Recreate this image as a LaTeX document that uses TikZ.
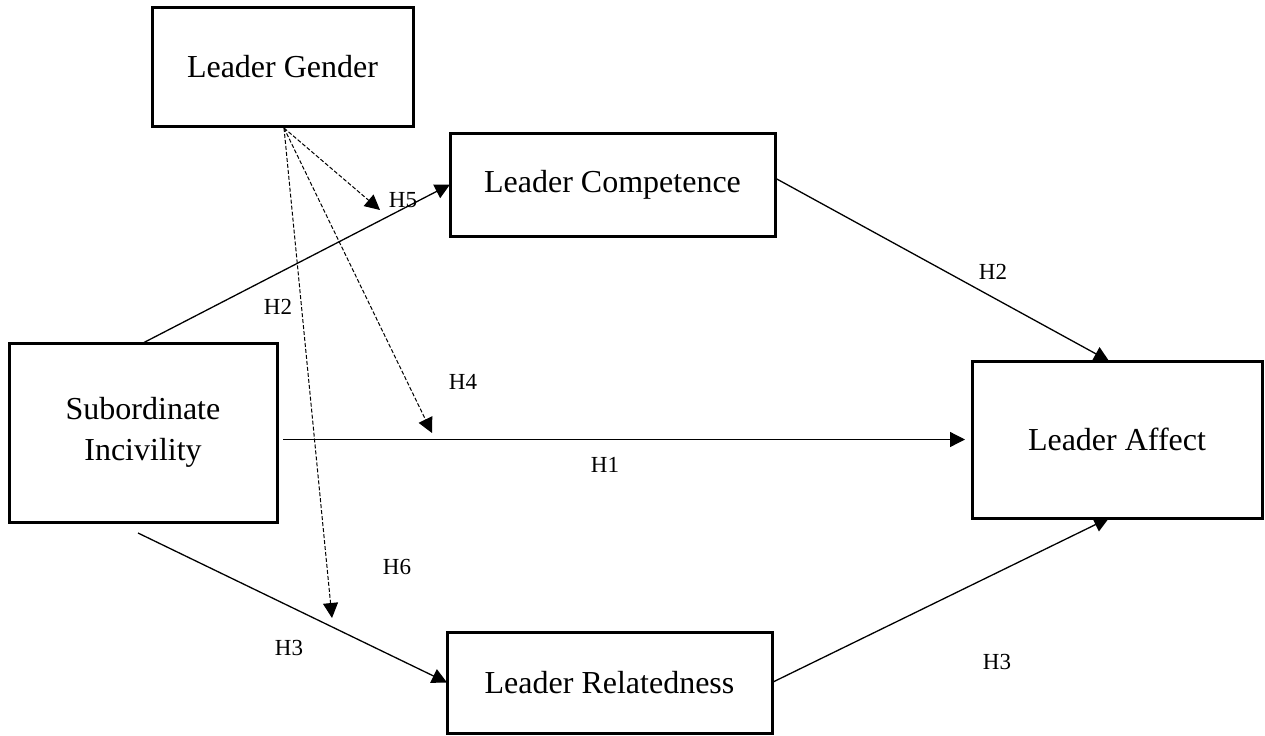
\documentclass[tikz,border=0pt]{standalone}
\usepackage{fontspec}
\setmainfont{Liberation Serif}
\usetikzlibrary{arrows.meta,calc}
\begin{document}
\begin{tikzpicture}[x=0.5pt,y=-0.5pt,
  box/.style={draw, line width=1.5pt, outer sep=0pt, inner sep=0pt, font=\fontsize{16}{20.5}\selectfont, align=center},
  conn/.style={line width=0.65pt, -{Triangle[length=7.5pt,width=7.5pt]}},
  modarrow/.style={line width=0.5pt, dash pattern=on 2pt off 1pt, -{Triangle[length=7.5pt,width=7.5pt]}},
  lab/.style={font=\fontsize{11.5}{13}\selectfont, inner sep=0pt}]
\useasboundingbox (0,0) rectangle (1265,735);
% boxes
\node[box, minimum width=130.5pt, minimum height=59.5pt] (lg) at (282.5,66.5) {Leader Gender};
\node[box, minimum width=162.5pt, minimum height=51.5pt] (lc) at (612.5,184.5) {Leader Competence};
\node[box, minimum width=134pt, minimum height=89.5pt] (sub) at (143,432.5) {Subordinate\\Incivility};
\node[box, minimum width=145pt, minimum height=78.5pt] (la) at (1117,439.5) {Leader Affect};
\node[box, minimum width=162.5pt, minimum height=50.5pt] (lr) at (609.5,682.5) {Leader Relatedness};
% free ends of the moderating arrows
\coordinate (t5) at (380,210);
\coordinate (t4) at (432,433);
\coordinate (t6) at (332,618);
% direct paths
\draw[conn] (sub.north) -- (lc.west);
\draw[conn] ([xshift=3pt]sub.east |- la.west) -- ([xshift=-3.5pt]la.west);
\draw[conn] ([xshift=-2.5pt,yshift=-5.5pt]sub.south) -- (lr.west);
\draw[conn] ([yshift=3.25pt]lc.east) -- ([xshift=-4pt]la.north);
\draw[conn] (lr.east) -- ([xshift=-4pt]la.south);
% moderation
\draw[modarrow] ([xshift=0.75pt,yshift=-1pt]lg.south) -- (t5);
\draw[modarrow] ([xshift=0.75pt,yshift=-1pt]lg.south) -- (t4);
\draw[modarrow] ([xshift=0.75pt,yshift=-1pt]lg.south) -- (t6);
% labels
\node[lab] (h5) at (403,200) {H5};
\node[lab] (h2a) at (278,307) {H2};
\node[lab] (h4) at (463,382) {H4};
\node[lab] (h1) at (605,465) {H1};
\node[lab] (h6) at (397,567) {H6};
\node[lab] (h3a) at (289,648) {H3};
\node[lab] (h2b) at (993,272) {H2};
\node[lab] (h3b) at (997,662) {H3};
\end{tikzpicture}
\end{document}
